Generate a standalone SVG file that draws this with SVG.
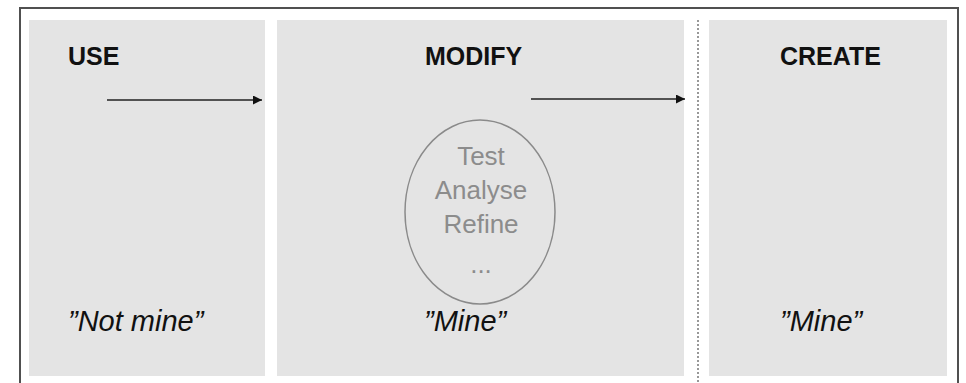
<svg xmlns="http://www.w3.org/2000/svg" width="966" height="383" viewBox="0 0 966 383">
  <style>
    .panel { fill: #e4e4e4; }
    .head { font-family: "Liberation Sans", Arial, sans-serif; font-weight: bold; font-size: 25px; fill: #111; }
    .quote { font-family: "Liberation Sans", Arial, sans-serif; font-style: italic; font-size: 29px; fill: #111; }
    .oval { fill: none; stroke: #8a8a8a; stroke-width: 1.5; }
    .ovaltxt { font-family: "Liberation Sans", Arial, sans-serif; font-size: 26px; fill: #8c8c8c; text-anchor: middle; }
    .arrow { stroke: #222; stroke-width: 1.5; fill: none; marker-end: url(#ah); }
  </style>
  <defs>
    <marker id="ah" viewBox="0 0 10 10" refX="10" refY="5" markerWidth="6" markerHeight="6" markerUnits="strokeWidth" orient="auto">
      <path d="M0,0 L10,5 L0,10 z" fill="#111"/>
    </marker>
  </defs>
  <rect width="966" height="383" fill="#ffffff"/>
  <path d="M20,383 V8 H958 V383" fill="none" stroke="#505050" stroke-width="2"/>

  <g id="use">
    <rect class="panel" x="29" y="20" width="236" height="356"/>
    <text class="head" x="68" y="65">USE</text>
    <text class="quote" x="68" y="331">”Not mine”</text>
  </g>

  <g id="modify">
    <rect class="panel" x="277" y="20" width="407" height="356"/>
    <text class="head" x="425" y="65">MODIFY</text>
    <text class="quote" x="424" y="331">”Mine”</text>
  </g>

  <g id="loop">
    <ellipse class="oval" cx="480" cy="212" rx="75" ry="92"/>
    <text class="ovaltxt" x="481" y="165">Test</text>
    <text class="ovaltxt" x="481" y="199">Analyse</text>
    <text class="ovaltxt" x="481" y="233">Refine</text>
    <text class="ovaltxt" x="481" y="273">...</text>
  </g>

  <g id="create">
    <rect class="panel" x="709" y="20" width="238" height="356"/>
    <text class="head" x="780" y="65">CREATE</text>
    <text class="quote" x="780" y="331">”Mine”</text>
  </g>

  <g id="divider">
    <line x1="698" y1="20" x2="698" y2="383" stroke="#777" stroke-width="1.5" stroke-dasharray="2 2"/>
  </g>

  <g id="connectors">
    <line class="arrow" x1="107" y1="100" x2="262" y2="100"/>
    <line class="arrow" x1="531" y1="99" x2="685" y2="99"/>
  </g>
</svg>
